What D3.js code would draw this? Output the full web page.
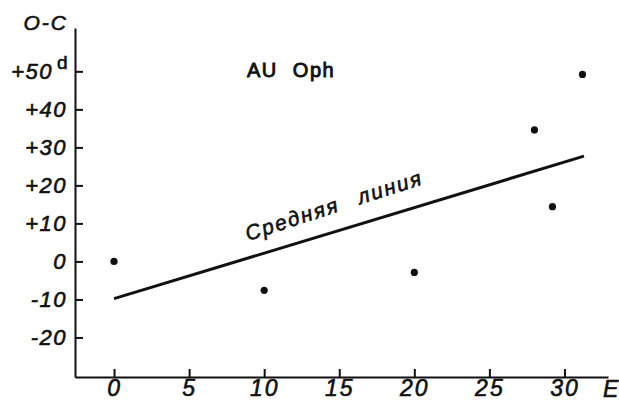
<!DOCTYPE html>
<html>
<head>
<meta charset="utf-8">
<script src="https://cdn.jsdelivr.net/npm/d3@7"></script>
<style>
  body { margin: 0; background: #fff; }
  svg text { font-family: "Liberation Sans", Arial, sans-serif; fill: #111; stroke: #111; stroke-width: 0.6; }
  .tick line, .domain { stroke: #111; stroke-width: 2; }
</style>
</head>
<body>
<div id="chart"></div>
<script>
// observations: epoch E and O-C in days
var epochs = [0, 10, 20, 28, 29.2, 31.2];
var oMinusC = [0, -7.6, -2.9, 34.6, 14.4, 49.2];
// mean line end points
var meanE = [0, 31.3];
var meanOC = [-9.8, 27.7];
var xTicks = [0, 5, 10, 15, 20, 25, 30];
var yTicks = [50, 40, 30, 20, 10, 0, -10, -20];

var width = 619, height = 403;

var svg = d3.select("#chart").append("svg")
    .attr("width", width)
    .attr("height", height);

var x = d3.scaleLinear().domain([-2.6, 32.9]).range([75, 608]);
var y = d3.scaleLinear().domain([-30.4, 61.4]).range([377, 28]);

//x axis, ticks pointing up
var gx = svg.append("g")
    .attr("transform", "translate(0," + y.range()[0] + ")")
    .call(d3.axisBottom(x).tickValues(xTicks).tickSizeInner(-8).tickSizeOuter(0).tickPadding(3));
gx.selectAll("text")
    .style("font-size", "23px")
    .style("font-style", "italic")
    .attr("letter-spacing", "2");

//y axis, ticks pointing right
var gy = svg.append("g")
    .attr("transform", "translate(" + x.range()[0] + ",0)")
    .call(d3.axisLeft(y).tickValues(yTicks).tickSizeInner(-8).tickSizeOuter(0).tickPadding(8)
      .tickFormat(function(d){ return d > 0 ? "+" + d : d < 0 ? "-" + (-d) : "0"; }));
gy.selectAll("text")
    .style("font-size", "22px")
    .style("font-style", "italic")
    .attr("letter-spacing", "1.5");
//+50 moved left to leave room for the d
gy.selectAll(".tick").filter(function(d){ return d === 50; })
  .select("text").attr("x", -22);

//superscript d after +50
svg.append("text")
   .attr("x", x.range()[0] - 18)
   .attr("y", y(50) - 2)
   .style("font-size", "19px")
   .text("d");

//axis names
svg.append("text")
   .attr("x", 68).attr("y", 30)
   .style("text-anchor", "end")
   .style("font-size", "21px")
   .style("font-style", "italic")
   .attr("letter-spacing", "2")
   .text("O-C");
svg.append("text")
   .attr("x", 603).attr("y", 397)
   .style("font-size", "23px")
   .style("font-style", "italic")
   .text("E");

//star name
svg.append("text")
   .attr("x", 247).attr("y", 77)
   .style("font-size", "20px")
   .style("stroke-width", "0.9")
   .attr("letter-spacing", "1.5")
   .attr("word-spacing", "8")
   .text("AU Oph");

//mean line
var meanLine = d3.line()
   .x(function(d){ return x(d[0]); })
   .y(function(d){ return y(d[1]); });
svg.append("path")
   .datum(d3.zip(meanE, meanOC))
   .attr("d", meanLine)
   .attr("fill", "none")
   .attr("stroke", "#111")
   .attr("stroke-width", 3);

svg.append("text")
   .attr("transform", "translate(248,241) rotate(-18)")
   .style("font-size", "21px")
   .style("font-style", "italic")
   .attr("letter-spacing", "2")
   .attr("word-spacing", "12")
   .text("Средняя линия");

//points
svg.selectAll("circle")
   .data(d3.zip(epochs, oMinusC))
   .enter().append("circle")
   .attr("cx", function(d){ return x(d[0]); })
   .attr("cy", function(d){ return y(d[1]); })
   .attr("r", 3.6)
   .attr("fill", "#111");
</script>
</body>
</html>
